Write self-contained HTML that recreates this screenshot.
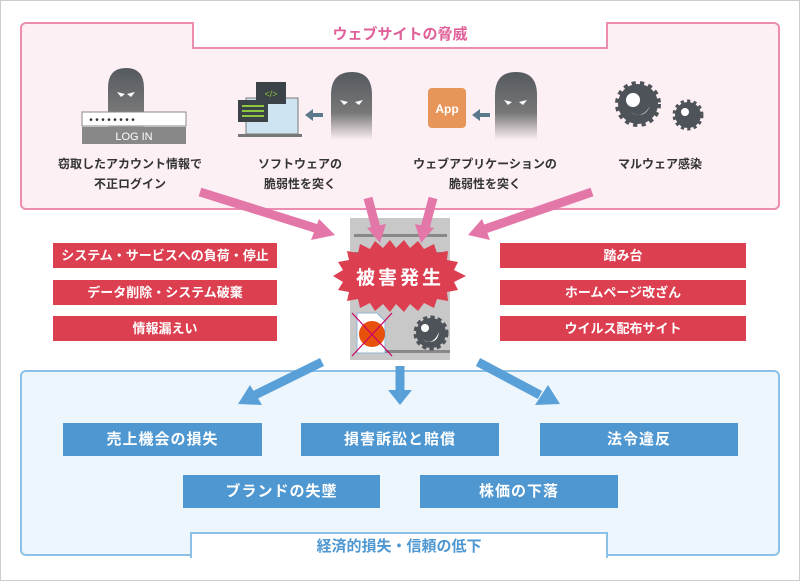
<!DOCTYPE html><html><head><meta charset="utf-8"><style>
body{margin:0;width:800px;height:581px;background:#fff;font-family:"Liberation Sans","Noto Sans CJK JP",sans-serif;position:relative;overflow:hidden}
.a{position:absolute;box-sizing:border-box}
.red{background:#dc3f50;color:#fff;font-size:13px;font-weight:bold;text-align:center;line-height:25px}
.blue{background:#4e97d1;color:#fff;font-size:15px;font-weight:bold;text-align:center;line-height:33px;letter-spacing:1px}
.lbl{font-size:12px;color:#333;text-align:center;line-height:20px;font-weight:bold}
</style></head><body>
<div class="a" style="left:0;top:0;width:800px;height:581px;border:1px solid #ccc"></div>
<div class="a" style="left:20px;top:22px;width:760px;height:188px;background:#fdf0f4;border:2px solid #eb8cb0;border-radius:6px"></div>
<div class="a" style="left:192px;top:22px;width:416px;height:27px;background:#fff;border:2px solid #eb8cb0;border-top:none;color:#e0609a;font-size:15px;font-weight:bold;text-align:center;line-height:25px">ウェブサイトの脅威</div>
<div class="a" style="left:20px;top:370px;width:760px;height:186px;background:#eef6fd;border:2px solid #8cc0e6;border-radius:6px"></div>
<div class="a" style="left:190px;top:532px;width:418px;height:26px;background:#fff;border:2px solid #8cc0e6;border-bottom:none;color:#4e97d1;font-size:15px;font-weight:bold;text-align:center;line-height:26px">経済的損失・信頼の低下</div>
<svg class="a" style="left:0;top:0" width="800" height="581">
<defs><linearGradient id="g" x1="0" y1="0" x2="0" y2="1"><stop offset="0" stop-color="#555a60"/><stop offset="0.6" stop-color="#777"/><stop offset="1" stop-color="#fdf0f4"/></linearGradient></defs>
<!-- hackers -->
<g fill="url(#g)"><path d="M108,140 V88 Q108,68 126,68 Q144,68 144,88 V140Z"/><path d="M331,140 V95 Q331,72 352,72 Q372,72 372,95 V140Z"/><path d="M495,140 V95 Q495,72 516,72 Q537,72 537,95 V140Z"/></g>
<g fill="#fff"><path d="M117,92 l8,2 -4,3z"/><path d="M135,92 l-8,2 4,3z"/><path d="M340,100 l8,2 -4,3z"/><path d="M363,100 l-8,2 4,3z"/><path d="M504,100 l8,2 -4,3z"/><path d="M527,100 l-8,2 4,3z"/></g>
<rect x="82" y="112" width="104" height="14" fill="#fff" stroke="#888"/>
<text x="88" y="123" font-size="10" fill="#333" font-family="Liberation Mono">••••••••</text>
<rect x="82" y="127" width="104" height="17" fill="#888"/>
<text x="134" y="140" font-size="11" fill="#fff" text-anchor="middle" font-family="Liberation Sans">LOG IN</text>
<!-- monitor -->
<rect x="246" y="98" width="52" height="36" fill="#cfe4f3" stroke="#777"/><rect x="238" y="134" width="64" height="3" fill="#777"/>
<rect x="256" y="82" width="30" height="22" fill="#3b4248"/><text x="271" y="97" font-size="9" fill="#8dc63f" text-anchor="middle">&lt;/&gt;</text>
<rect x="238" y="100" width="30" height="22" fill="#3b4248"/><g stroke="#8dc63f" stroke-width="2"><line x1="242" y1="106" x2="264" y2="106"/><line x1="242" y1="111" x2="264" y2="111"/><line x1="242" y1="116" x2="264" y2="116"/></g>
<path d="M305,115 l8,-6 v4 h10 v4 h-10 v4z" fill="#5a7a8c"/>
<path d="M472,115 l8,-6 v4 h10 v4 h-10 v4z" fill="#5a7a8c"/>
<rect x="428" y="88" width="38" height="40" rx="4" fill="#e8955a"/><text x="447" y="113" font-size="12" fill="#fff" text-anchor="middle" font-weight="bold">App</text>
<!-- germs -->
<g fill="#4d5358"><circle cx="638" cy="104" r="20" stroke="#4d5358" stroke-width="6" stroke-dasharray="4 4"/><circle cx="688" cy="115" r="13" stroke="#4d5358" stroke-width="5" stroke-dasharray="3 3"/></g>
<circle cx="633" cy="100" r="7" fill="#fff"/><path d="M630,112 q12,8 20,-6 q-6,14 -20,6z" fill="#fff"/><circle cx="685" cy="112" r="4" fill="#fff"/>
<!-- server -->
<rect x="350" y="218" width="100" height="142" fill="#c8c8c8"/>
<rect x="354" y="234" width="93" height="3" fill="#888"/><rect x="354" y="252" width="93" height="3" fill="#888"/><rect x="380" y="350" width="70" height="3" fill="#888"/>
<path d="M357,313 h20 l8,8 v32 h-28z" fill="#fff" stroke="#8fb4d6"/><circle cx="372" cy="334" r="13" fill="#e8500e"/>
<line x1="352" y1="313" x2="392" y2="356" stroke="#c06" stroke-width="1.2"/><line x1="392" y1="313" x2="352" y2="356" stroke="#c06" stroke-width="1.2"/>
<circle cx="431" cy="333" r="15" fill="#4d5358" stroke="#4d5358" stroke-width="5" stroke-dasharray="4 3"/><circle cx="425" cy="328" r="4" fill="#fff"/><path d="M423,340 q10,6 16,-8 q-2,14 -16,8z" fill="#fff"/>
<polygon fill="#dc3f50" points="333,276 343,270 338,262 349,260 347,251 358,253 360,244 370,249 375,241 383,248 390,240 396,248 404,240 410,248 418,241 424,249 434,244 437,253 448,251 447,260 458,262 454,270 466,276 454,282 458,290 447,292 448,301 437,299 434,308 424,303 418,311 410,304 404,312 396,304 390,312 383,304 375,311 370,303 360,308 358,299 347,301 349,292 338,290 343,282"/>
<text x="400" y="284" font-size="19" font-weight="bold" fill="#fff" text-anchor="middle" letter-spacing="3">被害発生</text>
<!-- pink arrows -->
<g stroke="#e277a8" stroke-width="9" fill="#e277a8">
<line x1="200" y1="192" x2="318" y2="229"/><line x1="368" y1="198" x2="376" y2="228"/><line x1="433" y1="198" x2="425" y2="228"/><line x1="592" y1="192" x2="485" y2="229"/></g>
<g fill="#e277a8"><polygon points="335,235 311,240 319,219"/><polygon points="380,243 367,228 386,224"/><polygon points="421,243 415,224 434,228"/><polygon points="468,235 482,219 490,240"/></g>
<!-- blue arrows -->
<g stroke="#5aa0d8" stroke-width="9"><line x1="322" y1="362" x2="255" y2="395"/><line x1="400" y1="366" x2="400" y2="392"/><line x1="478" y1="362" x2="540" y2="395"/></g>
<g fill="#5aa0d8"><polygon points="238,404 250,385 262,405"/><polygon points="388,390 412,390 400,405"/><polygon points="560,404 535,405 548,385"/></g>
</svg>
<div class="a lbl" style="left:40px;top:154px;width:180px">窃取したアカウント情報で<br>不正ログイン</div>
<div class="a lbl" style="left:230px;top:154px;width:140px">ソフトウェアの<br>脆弱性を突く</div>
<div class="a lbl" style="left:390px;top:154px;width:190px">ウェブアプリケーションの<br>脆弱性を突く</div>
<div class="a lbl" style="left:590px;top:154px;width:140px">マルウェア感染</div>
<div class="a red" style="left:53px;top:243px;width:224px">システム・サービスへの負荷・停止</div>
<div class="a red" style="left:53px;top:280px;width:224px">データ削除・システム破棄</div>
<div class="a red" style="left:53px;top:316px;width:224px">情報漏えい</div>
<div class="a red" style="left:500px;top:243px;width:246px">踏み台</div>
<div class="a red" style="left:500px;top:280px;width:246px">ホームページ改ざん</div>
<div class="a red" style="left:500px;top:316px;width:246px">ウイルス配布サイト</div>
<div class="a blue" style="left:63px;top:423px;width:199px">売上機会の損失</div>
<div class="a blue" style="left:301px;top:423px;width:198px">損害訴訟と賠償</div>
<div class="a blue" style="left:540px;top:423px;width:198px">法令違反</div>
<div class="a blue" style="left:183px;top:475px;width:197px">ブランドの失墜</div>
<div class="a blue" style="left:420px;top:475px;width:198px">株価の下落</div>
</body></html>
